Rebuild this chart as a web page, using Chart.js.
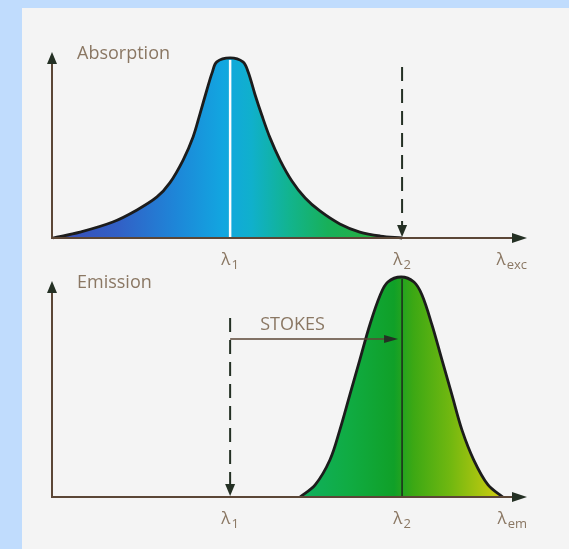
<!DOCTYPE html>
<html>
<head>
<meta charset="utf-8">
<title>Absorption / Emission</title>
<script src="https://cdn.jsdelivr.net/npm/chart.js@4/dist/chart.umd.min.js"></script>
<style>
  body { margin: 0; width: 569px; height: 549px; overflow: hidden; background: #c0dcfd; position: relative; }
  #panel { position: absolute; left: 22px; top: 8px; right: 0; bottom: 0; background: #f4f4f4; }
  canvas { position: absolute; left: 0; }
</style>
</head>
<body>
<div id="panel"></div>
<canvas id="absChart" width="569" height="280" style="top:0px"></canvas>
<canvas id="emChart" width="569" height="289" style="top:260px"></canvas>
<script>
// wavelength runs 0..100 (arbitrary units), intensities normalised to 1 at the peak
var absX = [0.2, 5.9, 12.8, 17.9, 22.1, 24.8, 27.6, 29.7, 31.2, 32.6, 33.7, 34.7, 37.5,
            40.2, 41.3, 42.7, 44.2, 45.9, 48.0, 50.5, 53.3, 56.4, 60.6, 64.8, 69.1, 73.7];
var absY = [0, 0.033, 0.089, 0.156, 0.228, 0.306, 0.433, 0.561, 0.694, 0.822, 0.917, 0.978, 1.0,
            0.978, 0.922, 0.80, 0.68, 0.556, 0.433, 0.317, 0.222, 0.15, 0.078, 0.033, 0.011, 0];

var emX = [52.2, 55.4, 58.5, 60.6, 62.7, 64.8, 66.9, 69.1, 70.7, 73.5,
           76.2, 77.9, 80.0, 82.1, 84.2, 86.3, 88.8, 91.8, 94.9];
var emY = [0, 0.055, 0.168, 0.305, 0.464, 0.623, 0.782, 0.918, 0.977, 1.0,
           0.977, 0.918, 0.782, 0.623, 0.464, 0.305, 0.168, 0.055, 0];

var lambda1 = 37.5;   // absorption max / excitation
var lambda2 = 73.7;   // emission max
var xEnd = 100;

var tickLabels = [
  { x: lambda1, sub: "1" },
  { x: lambda2, sub: "2" }
];

var textColor = "#8a7763";
var axisColor = "#5b4636";
var headColor = "#243024";
var font = "'Open Sans', sans-serif";

function toPoints(xs, ys) {
  var pts = [];
  for (var i = 0; i < xs.length; i++) {
    pts.push({ x: xs[i], y: ys[i] });
  }
  return pts;
}

// horizontal colour ramp, stop positions in wavelength units
function makeFill(stops) {
  return function (context) {
    var chart = context.chart;
    if (!chart.chartArea) return null;
    var xs = chart.scales.x;
    var g = chart.ctx.createLinearGradient(xs.getPixelForValue(0), 0, xs.getPixelForValue(xEnd), 0);
    for (var i = 0; i < stops.length; i++) {
      g.addColorStop(stops[i][0] / xEnd, stops[i][1]);
    }
    return g;
  };
}

function arrowHead(ctx, x, y, dir, len, half) {
  ctx.beginPath();
  if (dir == "up") {
    ctx.moveTo(x, y); ctx.lineTo(x - half, y + len); ctx.lineTo(x + half, y + len);
  } else if (dir == "down") {
    ctx.moveTo(x, y); ctx.lineTo(x - half, y - len); ctx.lineTo(x + half, y - len);
  } else {
    ctx.moveTo(x, y); ctx.lineTo(x - len, y - half); ctx.lineTo(x - len, y + half);
  }
  ctx.closePath();
  ctx.fill();
}

// λ with a subscript; align "center" centres the whole thing on x, "right" ends at x
function drawLambda(ctx, x, y, sub, align) {
  ctx.font = "17px " + font;
  var wl = ctx.measureText("λ").width;
  ctx.font = "13px " + font;
  var ws = ctx.measureText(sub).width;
  var left = align == "right" ? x - wl - ws - 1 : x - (wl + ws + 1) / 2;
  ctx.fillStyle = textColor;
  ctx.textAlign = "left";
  ctx.textBaseline = "alphabetic";
  ctx.font = "17px " + font;
  ctx.fillText("λ", left, y);
  ctx.font = "13px " + font;
  ctx.fillText(sub, left + wl + 1, y + 4);
}

var spectrumPlugin = {
  id: "spectrum",
  afterDatasetsDraw: function (chart, args, opts) {
    var ctx = chart.ctx;
    var xs = chart.scales.x;
    var ys = chart.scales.y;
    var x0 = xs.getPixelForValue(0);
    var x1 = xs.getPixelForValue(xEnd);
    var base = ys.getPixelForValue(0);
    var top = ys.getPixelForValue(opts.axisTop);

    ctx.save();

    // line under the peak
    var mx = xs.getPixelForValue(opts.marker.x);
    ctx.strokeStyle = opts.marker.color;
    ctx.lineWidth = opts.marker.width;
    ctx.beginPath();
    ctx.moveTo(mx, base);
    ctx.lineTo(mx, ys.getPixelForValue(1) + 2);
    ctx.stroke();

    // axes
    ctx.strokeStyle = axisColor;
    ctx.lineWidth = 2;
    ctx.beginPath();
    ctx.moveTo(x0, top + 10);
    ctx.lineTo(x0, base);
    ctx.lineTo(x1 - 12, base);
    ctx.stroke();
    ctx.fillStyle = headColor;
    arrowHead(ctx, x0, top, "up", 12, 5);
    arrowHead(ctx, x1, base, "right", 15, 5);

    // dashed drop line
    var dx = xs.getPixelForValue(opts.dashed.x);
    ctx.strokeStyle = headColor;
    ctx.lineWidth = 2;
    ctx.setLineDash([14, 8]);
    ctx.beginPath();
    ctx.moveTo(dx, ys.getPixelForValue(opts.dashed.top));
    ctx.lineTo(dx, base - 10);
    ctx.stroke();
    ctx.setLineDash([]);
    arrowHead(ctx, dx, base - 1, "down", 12, 5);

    // Stokes shift arrow
    if (opts.stokes) {
      var sy = ys.getPixelForValue(opts.stokes.y);
      var sx0 = xs.getPixelForValue(opts.stokes.from);
      var sx1 = xs.getPixelForValue(opts.stokes.to) - 4;
      ctx.strokeStyle = axisColor;
      ctx.lineWidth = 1.5;
      ctx.beginPath();
      ctx.moveTo(sx0, sy);
      ctx.lineTo(sx1 - 10, sy);
      ctx.stroke();
      ctx.fillStyle = headColor;
      arrowHead(ctx, sx1, sy, "right", 14, 4);
      ctx.fillStyle = textColor;
      ctx.font = "18px " + font;
      ctx.textAlign = "left";
      ctx.textBaseline = "middle";
      ctx.fillText(opts.stokes.text, sx0 + 30, sy - 14);
    }

    // axis title
    ctx.fillStyle = textColor;
    ctx.font = "18px " + font;
    ctx.textAlign = "left";
    ctx.textBaseline = "middle";
    ctx.fillText(opts.title, x0 + 25, top + 2);

    // wavelength labels
    for (var i = 0; i < tickLabels.length; i++) {
      drawLambda(ctx, xs.getPixelForValue(tickLabels[i].x), base + 27, tickLabels[i].sub, "center");
    }
    drawLambda(ctx, x1, base + 27, opts.endSub, "right");

    ctx.restore();
  }
};

function buildChart(id, pts, stops, yMax, padding, spec) {
  return new Chart(document.getElementById(id), {
    type: "line",
    data: {
      datasets: [{
        data: pts,
        borderColor: "#1c1c1c",
        borderWidth: 2.8,
        pointRadius: 0,
        tension: 0.35,
        fill: "origin",
        backgroundColor: makeFill(stops),
        clip: false
      }]
    },
    options: {
      responsive: false,
      animation: false,
      events: [],
      layout: { padding: padding },
      scales: {
        x: { type: "linear", min: 0, max: xEnd, display: false },
        y: { min: 0, max: yMax, display: false }
      },
      plugins: {
        legend: { display: false },
        tooltip: { enabled: false },
        spectrum: spec
      }
    },
    plugins: [spectrumPlugin]
  });
}

buildChart("absChart", toPoints(absX, absY),
  [[0, "#3c4cb4"], [14, "#3260c6"], [26, "#1e86d8"], [36, "#12a6e0"], [42, "#10b0cc"],
   [50, "#12b48e"], [58, "#18b05a"], [74, "#30ae30"]],
  1.033, { left: 52, right: 42, top: 52, bottom: 42 },
  { title: "Absorption", axisTop: 1.033, endSub: "exc",
    marker: { x: lambda1, color: "#ffffff", width: 2.5 },
    dashed: { x: lambda2, top: 0.95 } });

buildChart("emChart", toPoints(emX, emY),
  [[52, "#10b060"], [62, "#10ac44"], [72, "#10a028"], [76, "#3ca814"], [84, "#72b810"],
   [90, "#a8c410"], [95, "#d4cc10"]],
  1.0, { left: 52, right: 42, top: 17, bottom: 52 },
  { title: "Emission", axisTop: 0.982, endSub: "em",
    marker: { x: lambda2, color: "#1c2a1c", width: 1.5 },
    dashed: { x: lambda1, top: 0.814 },
    stokes: { from: lambda1, to: lambda2, y: 0.718, text: "STOKES" } });
</script>
</body>
</html>
